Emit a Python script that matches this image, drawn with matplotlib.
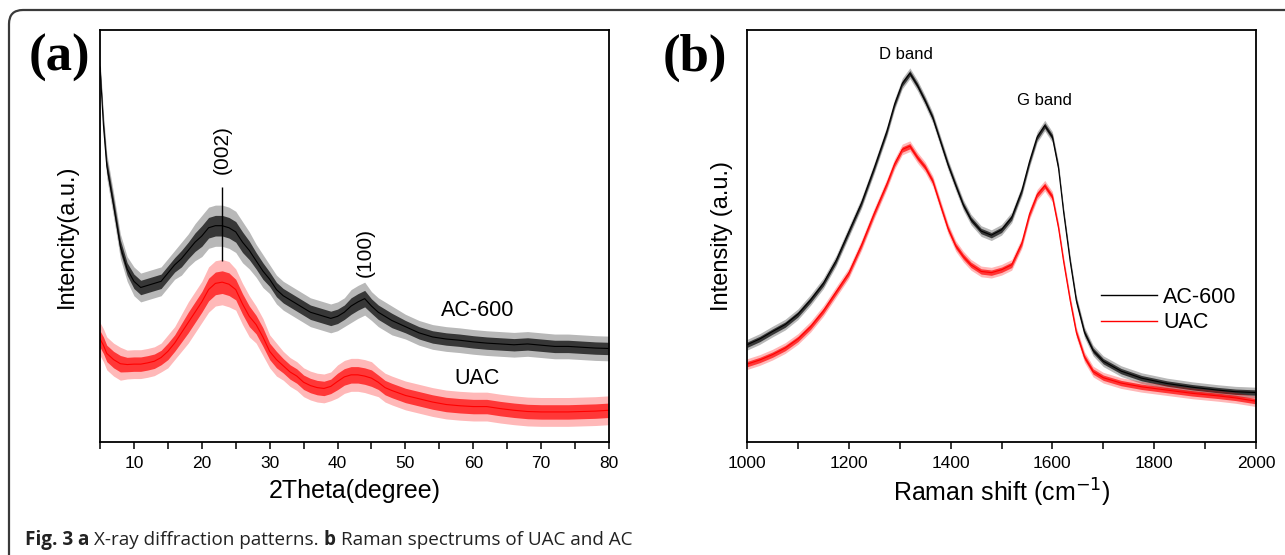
import matplotlib
matplotlib.use("Agg")
import matplotlib.pyplot as plt
from matplotlib.patches import FancyBboxPatch
from matplotlib.transforms import IdentityTransform
from matplotlib.ticker import MultipleLocator
import numpy as np

plt.rcParams['font.family'] = ['Liberation Sans', 'DejaVu Sans']

# ---- (a) XRD data (arbitrary intensity units 0-100)
xrd_theta = [5.0, 5.5, 6, 7, 8, 9, 10, 11, 12, 13, 14, 15, 16, 17, 18, 19, 20,
             21, 22, 23, 24, 25, 26, 27, 28, 29, 30, 31, 32, 33, 34, 35, 36,
             37, 38, 39, 40, 41, 42, 43, 44, 45, 46, 47, 48, 50, 52, 54, 56,
             58, 60, 62, 64, 66, 68, 70, 72, 74, 76, 78, 80]
xrd_ac600 = [91, 77, 67, 57.5, 47.5, 42, 39, 37.5, 38, 38.5, 39, 41, 43, 44.5,
             46.5, 48.5, 50, 52, 52.5, 52.5, 52, 51, 48.5, 46.5, 44, 41.5, 39.5,
             37, 35.5, 34.5, 33.5, 32.5, 31.5, 31, 30.5, 30, 30.5, 31.5, 33, 34,
             34.8, 33, 31.5, 30.5, 29.5, 28, 26.5, 25.5, 25, 24.7, 24.3, 24,
             23.8, 23.6, 23.8, 23.5, 23.2, 23.2, 23, 22.8, 22.7]
xrd_ac600_noise = [2, 3, 3, 3, 3, 3, 3.5, 3.5, 3.5, 3.5, 3.5, 3.5, 3.5, 4, 4, 4.5,
                   5, 5, 5, 5, 5, 5, 5, 4.5, 4, 4, 3.5, 3.5, 3.5, 3.5, 3.5, 3.5,
                   3.5, 3.5, 3.5, 3.5, 3.5, 3.5, 4, 4, 4, 3.5, 3.5, 3.5, 3.5, 3,
                   3, 3, 3, 3, 3, 3, 3, 3, 3, 3, 3, 3, 3, 3, 3]
xrd_uac = [25, 23.5, 21.5, 20, 19, 18.8, 18.9, 18.9, 19.2, 19.6, 20.5, 22, 24,
           26.5, 29, 31.5, 34, 37, 38.5, 38.8, 38.3, 37, 33.5, 30.5, 28.5, 25.5,
           22, 20, 18.5, 17, 16, 14.5, 13.7, 13.2, 13, 13.5, 14.7, 15.8, 16.3,
           16.3, 16, 15.5, 14.5, 13.2, 12.5, 11.3, 10.5, 9.7, 9.1, 8.8, 8.6,
           8.6, 8.1, 7.7, 7.4, 7.3, 7.3, 7.3, 7.4, 7.5, 7.7]
xrd_uac_noise = [4, 4, 4, 4, 4, 3.5, 3.5, 3.5, 3.5, 3.5, 3.5, 4, 4, 4.5, 5, 5, 5,
                 5.5, 5.5, 5.5, 5.5, 5, 5, 5, 4.5, 4.5, 4, 4, 3.5, 3.5, 3.5, 3.5,
                 3.5, 3.5, 3.5, 3.5, 4, 4, 4, 4, 4, 4, 3.5, 3.5, 3.5, 3.5, 3.5,
                 3.5, 3.5, 3.5, 3.5, 3.5, 3.5, 3.5, 3.5, 3.5, 3.5, 3.5, 3.5, 3.5, 3.5]
xrd_peaks = ["(002)", "(100)"]
xrd_peak_pos = [23.0, 44.1]

# ---- (b) Raman data
raman_shift = [1000, 1025, 1050, 1075, 1100, 1125, 1150, 1175, 1200, 1225, 1250,
               1275, 1290, 1305, 1320, 1335, 1350, 1365, 1380, 1395, 1410, 1425,
               1440, 1460, 1480, 1500, 1520, 1540, 1555, 1570, 1585, 1600, 1612,
               1622, 1635, 1647, 1663, 1680, 1700, 1735, 1775, 1825, 1875, 1925,
               1960, 2000]
raman_ac600 = [23.6, 25, 26.8, 28.5, 31, 34.5, 38.5, 44, 51, 58, 66.5, 75.5, 82,
               87, 89.5, 86.5, 82.8, 78.7, 73, 67.3, 62.3, 57.5, 54, 51.2, 50.2,
               51.5, 54.5, 61, 68, 74, 76.8, 74, 66.5, 55.8, 43.8, 34.3, 26.6,
               22.2, 19.6, 17.2, 15.5, 14.2, 13.3, 12.6, 12.2, 12.0]
raman_uac = [18.9, 19.9, 21.2, 22.8, 25, 28, 31.8, 36.4, 41, 47.8, 55.5, 62.7,
             67.5, 71, 71.8, 69, 66.7, 63.3, 57.5, 51.8, 47.6, 45, 43, 41.4, 41.1,
             41.8, 43, 48.3, 55.3, 60, 62.2, 59.5, 52, 43.8, 34.3, 26.6, 20.6,
             17.1, 15.6, 14.3, 13.4, 12.6, 11.8, 11.2, 10.7, 9.9]
raman_noise = 1.3
raman_bands = ["D band", "G band"]
raman_band_pos = [1312, 1585]
raman_band_y = [94, 82.8]

fig = plt.figure(figsize=(12.85, 5.55), dpi=100)


def draw_spectrum(ax, x, y, half, color):
    # noisy trace drawn as its read-off envelope plus the mean line
    x = np.asarray(x, float)
    y = np.asarray(y, float)
    half = np.broadcast_to(np.asarray(half, float), y.shape)
    ax.fill_between(x, y - half, y + half, color=color, alpha=0.28, lw=0)
    ax.fill_between(x, y - half * 0.5, y + half * 0.5, color=color, alpha=0.7, lw=0)
    ax.plot(x, y, color=color, lw=0.8)


def style_axes(ax):
    for s in ax.spines.values():
        s.set_linewidth(1.3)
    ax.set_yticks([])
    ax.tick_params(axis='x', which='both', direction='out', length=5, width=1.1,
                   labelsize=12.5, pad=5, top=False)
    ax.set_ylim(0, 100)


# panel (a)
ax1 = fig.add_axes([100 / 1285, 1 - 442 / 555, 509 / 1285, 412 / 555])
draw_spectrum(ax1, xrd_theta, xrd_ac600, xrd_ac600_noise, 'black')
draw_spectrum(ax1, xrd_theta, xrd_uac, xrd_uac_noise, '#ff0000')
ax1.vlines(xrd_peak_pos[0], 44, 62, color='black', lw=1)
ax1.set_xlim(5, 80)
ax1.xaxis.set_major_locator(MultipleLocator(10))
ax1.xaxis.set_minor_locator(MultipleLocator(5))
style_axes(ax1)
ax1.set_xlabel("2Theta(degree)", fontsize=18, labelpad=6)
ax1.set_ylabel("Intencity(a.u.)", fontsize=17, labelpad=16)
ax1.text(xrd_peak_pos[0], 65, xrd_peaks[0], rotation=90, ha='center', va='bottom', fontsize=15)
ax1.text(xrd_peak_pos[1], 40, xrd_peaks[1], rotation=90, ha='center', va='bottom', fontsize=15)
ax1.text(60.6, 31.8, "AC-600", ha='center', va='center', fontsize=15.5)
ax1.text(60.5, 15.5, "UAC", ha='center', va='center', fontsize=15.5)
fig.text(29 / 1285, 1 - 58 / 555, "(a)", family='Liberation Serif', fontweight='bold',
         fontsize=38, va='center', ha='left')

# panel (b)
ax2 = fig.add_axes([747 / 1285, 1 - 442 / 555, 509 / 1285, 412 / 555])
draw_spectrum(ax2, raman_shift, raman_ac600, raman_noise, 'black')
draw_spectrum(ax2, raman_shift, raman_uac, raman_noise, '#ff0000')
ax2.set_xlim(1000, 2000)
ax2.xaxis.set_major_locator(MultipleLocator(200))
ax2.xaxis.set_minor_locator(MultipleLocator(100))
style_axes(ax2)
ax2.set_xlabel("Raman shift (cm$^{-1}$)", fontsize=18, labelpad=4)
ax2.set_ylabel("Intensity (a.u.)", fontsize=17, labelpad=10)
for name, xp, yp in zip(raman_bands, raman_band_pos, raman_band_y):
    ax2.text(xp, yp, name, ha='center', va='center', fontsize=12)
ax2.legend(handles=[plt.Line2D([], [], color='black', lw=1),
                    plt.Line2D([], [], color='#ff0000', lw=1)],
           labels=["AC-600", "UAC"], loc='center right', bbox_to_anchor=(1.0, 0.32),
           frameon=False, fontsize=15.5, handlelength=2.6, handletextpad=0.3,
           labelspacing=0.2)
fig.text(663 / 1285, 1 - 58 / 555, "(b)", family='Liberation Serif', fontweight='bold',
         fontsize=38, va='center', ha='left')

# outer rounded frame
frame = FancyBboxPatch((9, -30), 1320, 575, boxstyle="round,pad=0,rounding_size=14",
                       transform=IdentityTransform(), fill=False, ec='#3a3a3a', lw=1.6)
fig.patches.append(frame)

# caption with mixed weights
fig.canvas.draw()
renderer = fig.canvas.get_renderer()
caption = [("Fig. 3 ", True), ("a ", True), ("X-ray diffraction patterns. ", False),
           ("b ", True), ("Raman spectrums of UAC and AC", False)]
cx = 25
for txt, bold in caption:
    t = fig.text(cx / 1285, 1 - 540 / 555, txt, family=['Open Sans', 'DejaVu Sans'],
                 fontweight='bold' if bold else 'normal', fontsize=13.6,
                 va='center', ha='left', color='#222222')
    cx += t.get_window_extent(renderer).width

fig.savefig("out.png", dpi=100)
